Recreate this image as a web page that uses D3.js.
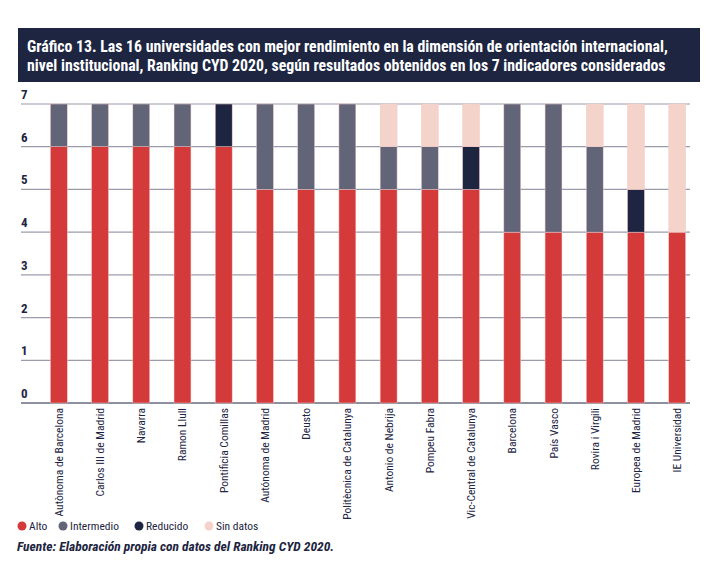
<!DOCTYPE html>
<html><head><meta charset="utf-8">
<script src="https://cdn.jsdelivr.net/npm/d3@7"></script>
<style>
body{margin:0;background:#fff}
text{font-family:"Liberation Sans Narrow","Roboto Condensed",Roboto,sans-serif}
</style></head><body>
<script>
const width = 720, height = 577
const universities = ["Autònoma de Barcelona","Carlos III de Madrid","Navarra","Ramon Llull","Pontificia Comillas","Autónoma de Madrid","Deusto","Politècnica de Catalunya","Antonio de Nebrija","Pompeu Fabra","Vic-Central de Catalunya","Barcelona","País Vasco","Rovira i Virgili","Europea de Madrid","IE Universidad"]
const alto       = [6,6,6,6,6,5,5,5,5,5,5,4,4,4,4,4]
const intermedio = [1,1,1,1,0,2,2,2,1,1,0,3,3,2,0,0]
const reducido   = [0,0,0,0,1,0,0,0,0,0,1,0,0,0,1,0]
const sinDatos   = [0,0,0,0,0,0,0,0,1,1,1,0,0,1,2,3]
const seriesNames = ["Alto","Intermedio","Reducido","Sin datos"]
const colors = ["#d43a3a","#626477","#1d2541","#f4d3cb"]
const yTicks = [0,1,2,3,4,5,6,7]

const svg = d3.select('body').append('svg').attr('width', width).attr('height', height)

// title box
svg.append('rect').attr('x', 18).attr('y', 28).attr('width', 682).attr('height', 54).attr('fill', '#1d2541')
const title = svg.append('text').attr('fill', '#fff').attr('font-weight', 'bold').attr('font-size', 15.8)
title.append('tspan').attr('x', 27).attr('y', 52).text('Gráfico 13. Las 16 universidades con mejor rendimiento en la dimensión de orientación internacional,')
title.append('tspan').attr('x', 27).attr('y', 71).text('nivel institucional, Ranking CYD 2020, según resultados obtenidos en los 7 indicadores considerados')

const x = d3.scaleBand().domain(universities).range([38, 698]).paddingInner(0.59).paddingOuter(0.3)
const y = d3.scaleLinear().domain([0, 7]).range([403, 104])

// gridlines
svg.selectAll('line.grid').data(yTicks).enter().append('line')
  .attr('x1', 21).attr('x2', 690)
  .attr('y1', d => y(d)).attr('y2', d => y(d))
  .attr('stroke', d => d === 0 ? '#1d2541' : '#9a9caa').attr('stroke-width', 1.2)
svg.selectAll('text.yl').data(yTicks).enter().append('text')
  .attr('x', 21).attr('y', d => y(d) - 5)
  .attr('font-size', 13).attr('font-weight', 'bold').attr('fill', '#1d2541')
  .text(d => d)

const rows = universities.map((u, i) => ({u, Alto: alto[i], Intermedio: intermedio[i], Reducido: reducido[i], "Sin datos": sinDatos[i]}))
const stack = d3.stack().keys(seriesNames)(rows)

svg.selectAll('g.s').data(stack).enter().append('g')
  .attr('fill', (d, i) => colors[i])
  .selectAll('rect').data(d => d).enter().append('rect')
  .attr('x', d => x(d.data.u))
  .attr('width', x.bandwidth())
  .attr('y', d => y(d[1]))
  .attr('height', d => y(d[0]) - y(d[1]))
  .attr('stroke', '#f3c9c9').attr('stroke-width', 0.5)

// category labels
svg.selectAll('text.cl').data(universities).enter().append('text')
  .attr('transform', d => `translate(${x(d) + x.bandwidth() / 2 + 4},408) rotate(-90)`)
  .attr('text-anchor', 'end').attr('font-size', 11.5).attr('fill', '#1d2541')
  .text(d => d)

// legend
const lx = [22, 63, 139, 209]
seriesNames.forEach((s, i) => {
  svg.append('circle').attr('cx', lx[i]).attr('cy', 526).attr('r', 4.5).attr('fill', colors[i])
  svg.append('text').attr('x', lx[i] + 7).attr('y', 530).attr('font-size', 11.5).attr('fill', '#1d2541').text(s)
})

svg.append('text').attr('x', 17).attr('y', 551).attr('font-size', 13.5).attr('font-weight', 'bold')
  .attr('font-style', 'italic').attr('fill', '#1d2541')
  .text('Fuente: Elaboración propia con datos del Ranking CYD 2020.')
</script>
</body></html>
